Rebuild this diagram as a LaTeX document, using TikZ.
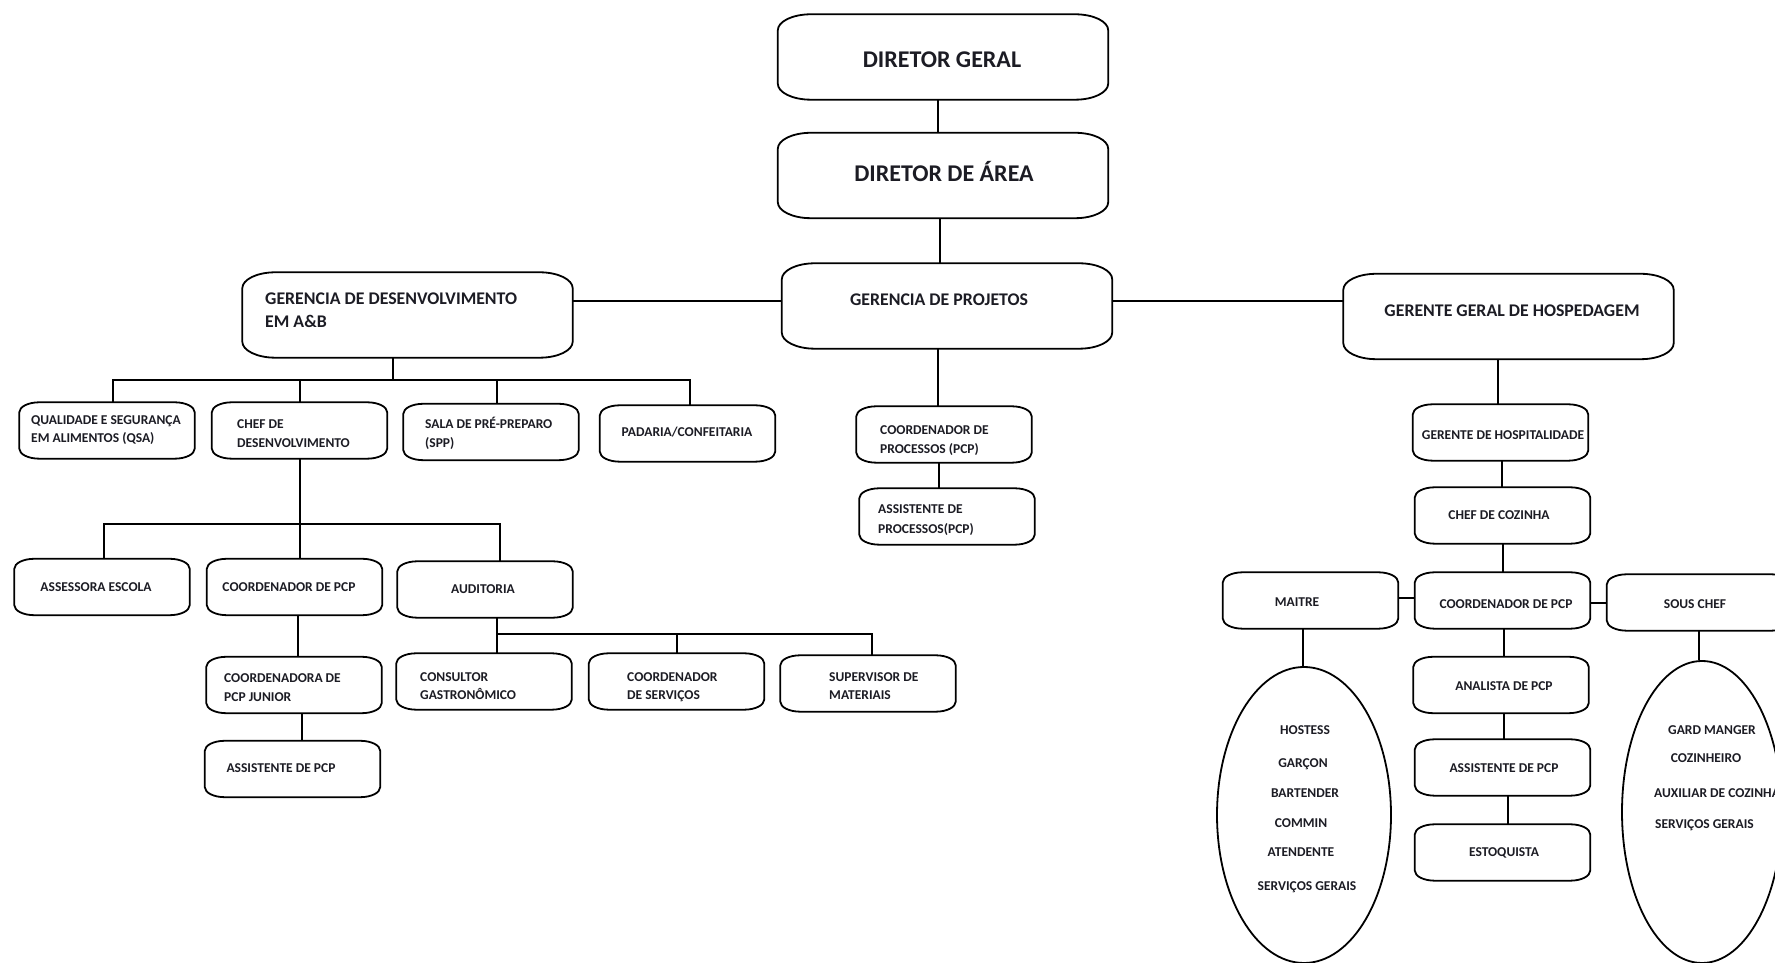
\documentclass[tikz,border=0pt]{standalone}
\usepackage{fontspec}
\setmainfont{Carlito}
\usetikzlibrary{shapes.geometric}
\definecolor{ink}{RGB}{28,28,36}
\newcounter{tn}
\newcommand\tx[4]{\stepcounter{tn}\node[#1] (t\arabic{tn}) at (#2,#3) {#4};}
\newcommand\ob[3]{%
\draw[ln] ([xshift=#2pt]#1.north west) -- ([xshift=-#2pt]#1.north east)
 arc[start angle=90,end angle=0,x radius=#2pt,y radius=#3pt]
 -- ([yshift=#3pt]#1.south east)
 arc[start angle=0,end angle=-90,x radius=#2pt,y radius=#3pt]
 -- ([xshift=#2pt]#1.south west)
 arc[start angle=270,end angle=180,x radius=#2pt,y radius=#3pt]
 -- ([yshift=-#3pt]#1.north west)
 arc[start angle=180,end angle=90,x radius=#2pt,y radius=#3pt] -- cycle;}
\begin{document}
\begin{tikzpicture}[x=1pt,y=1pt,
  ln/.style={line width=1.8pt,draw=black},
  bx/.style={rectangle,inner sep=0pt,minimum width=330pt,minimum height=85pt},
  sx/.style={rectangle,inner sep=0pt,minimum width=175pt,minimum height=56pt},
  el/.style={ellipse,draw=black,line width=1.8pt,inner sep=0pt},
  fB/.style={font=\fontsize{24}{28}\selectfont\bfseries,inner sep=0pt,text=ink},
  fM/.style={font=\fontsize{17.8}{21}\selectfont\bfseries,inner sep=0pt,text=ink},
  fS/.style={font=\fontsize{13.5}{16}\selectfont\bfseries,inner sep=0pt,text=ink},
  tc/.style={anchor=base}, tl/.style={anchor=base west}]
\useasboundingbox (0,0) rectangle (1775,963);
\fill[white] (0,0) rectangle (1775,963);
\clip (0,0) rectangle (1775,963);
% boxes
\node[bx] (DG) at (943,906) {};
\node[bx] (DA) at (943,787.5) {};
\node[bx] (GP) at (947,657) {};
\node[bx] (GD) at (407.5,648) {};
\node[bx] (GGH) at (1508.5,646.5) {};
\node[sx] (QSA) at (107,532.5) {};
\node[sx] (CD) at (299.5,532.5) {};
\node[sx] (SALA) at (491,531) {};
\node[sx] (PAD) at (687.5,529.5) {};
\node[sx] (CPROC) at (944,528.5) {};
\node[sx] (APROC) at (947,446.5) {};
\node[sx] (GH) at (1500.5,530.5) {};
\node[sx] (CCOZ) at (1502.5,447.5) {};
\node[sx] (ASSE) at (102,376) {};
\node[sx] (CPCPL) at (294.5,376) {};
\node[sx] (AUD) at (485,373.5) {};
\node[sx] (CONS) at (484,281.5) {};
\node[sx] (CSERV) at (676.5,281.5) {};
\node[sx] (SUP) at (868,279.5) {};
\node[sx] (JUN) at (294,278) {};
\node[sx] (ASSL) at (292.5,194) {};
\node[sx] (MAI) at (1310.5,362.5) {};
\node[sx] (CPCPR) at (1502.5,362.5) {};
\node[sx,minimum width=184pt] (SOUS) at (1699,360.5) {};
\node[sx] (ANA) at (1501,278) {};
\node[sx] (ASSR) at (1502.5,195.5) {};
\node[sx] (EST) at (1502.5,110.5) {};
\node[el,minimum width=174pt,minimum height=296pt] (ELL) at (1304,148) {};
\node[el,minimum width=160pt,minimum height=302pt] (ELR) at (1702,151) {};
\foreach \n in {DG,DA,GP,GD,GGH} {\ob{\n}{33}{16}}
\foreach \n in {QSA,CD,SALA,PAD,CPROC,APROC,GH,CCOZ,ASSE,CPCPL,AUD,CONS,CSERV,SUP,JUN,ASSL,MAI,CPCPR,SOUS,ANA,ASSR,EST} {\ob{\n}{20}{10}}
% connectors
\draw[ln] (DG.south -| 938,0) -- (DA.north -| 938,0);
\draw[ln] (DA.south -| 940,0) -- (GP.north -| 940,0);
\draw[ln] (GD.east |- 0,662) -- (GP.west |- 0,662);
\draw[ln] (GP.east |- 0,662) -- (GGH.west |- 0,662);
\draw[ln] (GP.south -| 938,0) -- (CPROC.north -| 938,0);
\draw[ln] (CPROC.south -| 939,0) -- (APROC.north -| 939,0);
\coordinate (b1a) at (113,583);
\coordinate (b1b) at (300,583);
\coordinate (b1c) at (393,583);
\coordinate (b1d) at (497,583);
\coordinate (b1e) at (690,583);
\draw[ln] (GD.south -| b1c) -- (b1c);
\draw[ln] (QSA.north -| b1a) |- (b1e) -- (PAD.north -| b1e);
\draw[ln] (b1b) -- (CD.north -| b1b);
\draw[ln] (b1d) -- (SALA.north -| b1d);
\coordinate (b2a) at (104,439);
\coordinate (b2b) at (300,439);
\coordinate (b2c) at (500,439);
\draw[ln] (CD.south -| b2b) -- (CPCPL.north -| b2b);
\draw[ln] (ASSE.north -| b2a) |- (b2c) -- (AUD.north -| b2c);
\coordinate (b3a) at (497,329);
\coordinate (b3b) at (677,329);
\coordinate (b3c) at (872,329);
\draw[ln] (AUD.south -| b3a) -- (CONS.north -| b3a);
\draw[ln] (b3a) -- (b3c) -- (SUP.north -| b3c);
\draw[ln] (b3b) -- (CSERV.north -| b3b);
\draw[ln] (CPCPL.south -| 298,0) -- (JUN.north -| 298,0);
\draw[ln] (JUN.south -| 302,0) -- (ASSL.north -| 302,0);
\draw[ln] (GGH.south -| 1498,0) -- (GH.north -| 1498,0);
\draw[ln] (GH.south -| 1502,0) -- (CCOZ.north -| 1502,0);
\draw[ln] (CCOZ.south -| 1503,0) -- (CPCPR.north -| 1503,0);
\draw[ln] (MAI.east |- 0,365) -- (CPCPR.west |- 0,365);
\draw[ln] (CPCPR.east |- 0,360) -- (SOUS.west |- 0,360);
\draw[ln] (CPCPR.south -| 1504,0) -- (ANA.north -| 1504,0);
\draw[ln] (ANA.south -| 1504,0) -- (ASSR.north -| 1504,0);
\draw[ln] (ASSR.south -| 1508,0) -- (EST.north -| 1508,0);
\draw[ln] (MAI.south -| 1303,0) -- (ELL.north -| 1303,0);
\draw[ln] (SOUS.south -| 1699,0) -- (ELR.north -| 1699,0);
% texts
\tx{fB,tc}{942}{895}{DIRETOR GERAL}
\tx{fB,tc}{944}{781}{DIRETOR DE ÁREA}
\tx{fM,tc}{939}{657}{GERENCIA DE PROJETOS}
\tx{fM,tl}{265}{658}{GERENCIA DE DESENVOLVIMENTO}
\tx{fM,tl}{265}{635}{EM A\&B}
\tx{fM,tc}{1512}{646}{GERENTE GERAL DE HOSPEDAGEM}
\tx{fS,tl}{31}{538}{QUALIDADE E SEGURANÇA}
\tx{fS,tl}{31}{520}{EM ALIMENTOS (QSA)}
\tx{fS,tl}{237}{534}{CHEF DE}
\tx{fS,tl}{237}{515}{DESENVOLVIMENTO}
\tx{fS,tl}{425}{534}{SALA DE PRÉ-PREPARO}
\tx{fS,tl}{425}{515}{(SPP)}
\tx{fS,tc}{687}{526}{PADARIA/CONFEITARIA}
\tx{fS,tl}{880}{528}{COORDENADOR DE}
\tx{fS,tl}{880}{509}{PROCESSOS (PCP)}
\tx{fS,tl}{878}{449}{ASSISTENTE DE}
\tx{fS,tl}{878}{429}{PROCESSOS(PCP)}
\tx{fS,tc}{1503}{523}{GERENTE DE HOSPITALIDADE}
\tx{fS,tc}{1499}{443}{CHEF DE COZINHA}
\tx{fS,tc}{96}{371}{ASSESSORA ESCOLA}
\tx{fS,tc}{289}{371}{COORDENADOR DE PCP}
\tx{fS,tc}{483}{369}{AUDITORIA}
\tx{fS,tl}{420}{281}{CONSULTOR}
\tx{fS,tl}{420}{263}{GASTRONÔMICO}
\tx{fS,tl}{627}{281}{COORDENADOR}
\tx{fS,tl}{627}{263}{DE SERVIÇOS}
\tx{fS,tl}{829}{281}{SUPERVISOR DE}
\tx{fS,tl}{829}{263}{MATERIAIS}
\tx{fS,tl}{224}{280}{COORDENADORA DE}
\tx{fS,tl}{224}{261}{PCP JUNIOR}
\tx{fS,tc}{281}{190}{ASSISTENTE DE PCP}
\tx{fS,tc}{1297}{356}{MAITRE}
\tx{fS,tc}{1506}{354}{COORDENADOR DE PCP}
\tx{fS,tc}{1695}{354}{SOUS CHEF}
\tx{fS,tc}{1504}{272}{ANALISTA DE PCP}
\tx{fS,tc}{1504}{190}{ASSISTENTE DE PCP}
\tx{fS,tc}{1504}{106}{ESTOQUISTA}
\tx{fS,tc}{1305}{228}{HOSTESS}
\tx{fS,tc}{1303}{195}{GARÇON}
\tx{fS,tc}{1305}{165}{BARTENDER}
\tx{fS,tc}{1301}{135}{COMMIN}
\tx{fS,tc}{1301}{106}{ATENDENTE}
\tx{fS,tc}{1307}{72}{SERVIÇOS GERAIS}
\tx{fS,tc}{1712}{228}{GARD MANGER}
\tx{fS,tc}{1706}{200}{COZINHEIRO}
\tx{fS,tl}{1654}{165}{AUXILIAR DE COZINHA}
\tx{fS,tl}{1655}{134}{SERVIÇOS GERAIS}
\end{tikzpicture}
\end{document}
